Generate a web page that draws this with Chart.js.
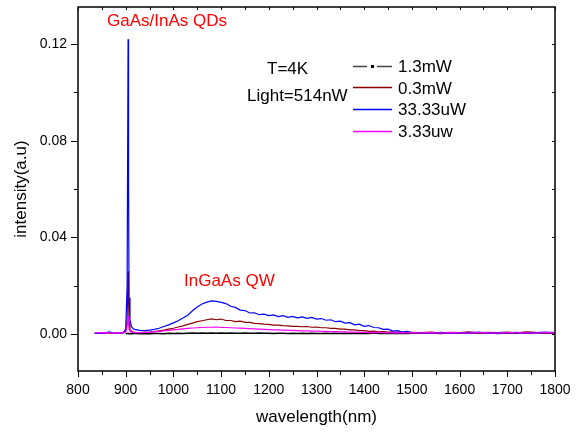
<!DOCTYPE html>
<html>
<head>
<meta charset="utf-8">
<script src="https://cdn.jsdelivr.net/npm/chart.js@4/dist/chart.umd.min.js"></script>
<style>
  html, body { margin: 0; padding: 0; background: #fff; }
  #wrap { width: 586px; height: 432px; }
</style>
</head>
<body>
<div id="wrap"><canvas id="plChart"></canvas></div>
<script>
// longueurs d'onde (nm)
const wavelengths = [
    835, 845, 855, 865, 875, 885, 895, 900, 903, 905, 906, 907, 909, 912, 916,
    920, 930, 940, 950, 960, 970, 980, 990, 1000, 1010,
    1020, 1030, 1040, 1050, 1060, 1070, 1080, 1090, 1100, 1110,
    1120, 1130, 1140, 1150, 1160, 1170, 1180, 1190, 1200, 1210,
    1220, 1230, 1240, 1250, 1260, 1270, 1280, 1290, 1300, 1310,
    1320, 1330, 1340, 1350, 1360, 1370, 1380, 1390, 1400, 1410,
    1420, 1430, 1440, 1450, 1460, 1470, 1480, 1490, 1500,
    1520, 1540, 1560, 1580, 1600, 1620, 1640, 1660, 1680, 1700, 1720, 1740, 1760, 1780, 1800
];

// 1.3mW
const p1_3mW = [
    null, null, null, null, null, null, null, 0.0001, 0.0002, 0.0003, 0.0002, 0.0001, 0.0001, 0.0001, 0.0002,
    0.0002, 0.0001, 0.0002, 0.0001, 0.0002, 0.0002, 0.0001, 0.0003, 0.0002, 0.0003,
    0.0002, 0.0003, 0.0004, 0.0003, 0.0004, 0.0003, 0.0004, 0.0003, 0.0004, 0.0003,
    0.0004, 0.0003, 0.0003, 0.0004, 0.0003, 0.0003, 0.0004, 0.0003, 0.0003, 0.0002,
    0.0003, 0.0003, 0.0002, 0.0003, 0.0002, 0.0003, 0.0002, 0.0003, 0.0002, 0.0002,
    0.0003, 0.0002, 0.0003, 0.0002, 0.0003, 0.0002, 0.0003, 0.0002, 0.0003, 0.0002,
    0.0004, 0.0002, 0.0003, 0.0002, 0.0003, 0.0002, 0.0003, 0.0002, 0.0003,
    0.0003, 0.0004, 0.0002, 0.0005, 0.0003, 0.0004, 0.0003, 0.0005, 0.0002, 0.0004, 0.0003, 0.0005, 0.0004, 0.0003, 0.0004
];

// 0.3mW
const p0_3mW = [
    0.0004, 0.0003, 0.0005, 0.0004, 0.0003, 0.0005, 0.0004, 0.001, 0.006, 0.026, 0.014, 0.005, 0.002, 0.0012, 0.0008,
    0.0007, 0.0006, 0.0007, 0.0008, 0.0010, 0.0013, 0.0016, 0.0020, 0.0024, 0.0029,
    0.0034, 0.0040, 0.0045, 0.0051, 0.0055, 0.0059, 0.0063, 0.0059, 0.0062, 0.0056,
    0.0056, 0.0051, 0.0053, 0.0048, 0.0048, 0.0044, 0.0043, 0.0041, 0.0040, 0.0037,
    0.0037, 0.0035, 0.0034, 0.0032, 0.0032, 0.0030, 0.0031, 0.0028, 0.0029, 0.0026,
    0.0026, 0.0023, 0.0023, 0.0020, 0.0020, 0.0017, 0.0017, 0.0014, 0.0014, 0.0011,
    0.0012, 0.0009, 0.0010, 0.0008, 0.0009, 0.0007, 0.0008, 0.0006, 0.0007,
    0.0006, 0.0008, 0.0005, 0.0007, 0.0006, 0.0009, 0.0005, 0.0007, 0.0006, 0.0008, 0.0005, 0.0009, 0.0007, 0.0006, 0.0007
];

// 33.33uW
const p33uW = [
    0.0003, 0.0004, 0.0003, 0.0009, 0.0004, 0.0005, 0.0006, 0.002, 0.02, 0.122, 0.06, 0.015, 0.006, 0.003, 0.0022,
    0.0018, 0.0015, 0.0014, 0.0016, 0.0019, 0.0024, 0.0031, 0.0038, 0.0046, 0.0055,
    0.0066, 0.0078, 0.0096, 0.0112, 0.0124, 0.0132, 0.0137, 0.0135, 0.0131, 0.0126,
    0.0115, 0.0110, 0.0099, 0.0097, 0.0087, 0.0088, 0.0080, 0.0082, 0.0076, 0.0079,
    0.0072, 0.0076, 0.0069, 0.0073, 0.0067, 0.0071, 0.0065, 0.0069, 0.0062, 0.0064,
    0.0057, 0.0059, 0.0051, 0.0053, 0.0045, 0.0047, 0.0038, 0.0041, 0.0032, 0.0035,
    0.0027, 0.0026, 0.0019, 0.0020, 0.0012, 0.0014, 0.0008, 0.0011, 0.0006,
    0.0006, 0.0004, 0.0007, 0.0003, 0.0006, 0.0005, 0.0008, 0.0004, 0.0006, 0.0005, 0.0007, 0.0004, 0.0006, 0.0008, 0.0005
];

// 3.33uw
const p3uW = [
    0.0005, 0.0005, 0.0006, 0.0005, 0.0004, 0.0006, 0.0005, 0.0008, 0.003, 0.0075, 0.005, 0.002, 0.0012, 0.0009, 0.0007,
    0.0006, 0.0006, 0.0007, 0.0008, 0.0009, 0.0011, 0.0013, 0.0015, 0.0017, 0.0019,
    0.0021, 0.0023, 0.0025, 0.0026, 0.0027, 0.0028, 0.0028, 0.0029, 0.0027, 0.0027,
    0.0026, 0.0025, 0.0024, 0.0023, 0.0022, 0.0021, 0.0020, 0.0019, 0.0018, 0.0017,
    0.0017, 0.0016, 0.0015, 0.0015, 0.0014, 0.0013, 0.0013, 0.0012, 0.0012, 0.0011,
    0.0011, 0.0010, 0.0010, 0.0009, 0.0009, 0.0008, 0.0008, 0.0007, 0.0007, 0.0006,
    0.0007, 0.0006, 0.0006, 0.0005, 0.0006, 0.0005, 0.0006, 0.0005, 0.0006,
    0.0005, 0.0006, 0.0004, 0.0006, 0.0005, 0.0004, 0.0006, 0.0005, 0.0004, 0.0006, 0.0005, 0.0005, 0.0004, 0.0006, 0.0005
];

const yTickValues = [0, 0.04, 0.08, 0.12];
const seriesLabels = ['1.3mW', '0.3mW', '33.33uW', '3.33uw'];
const seriesColors = ['#000000', '#8b0000', '#0000ff', '#ff00ff'];

const FONT = 'Arial, "Liberation Sans", sans-serif';

function toPoints(vals) {
    return wavelengths.map((w, i) => ({ x: w, y: vals[i] }));
}

// cadre, graduations, légende et annotations
const decor = {
    id: 'decor',
    afterDraw(chart) {
        const { ctx, chartArea: a, scales: { x, y } } = chart;
        ctx.save();
        ctx.strokeStyle = '#000';
        ctx.lineWidth = 1.5;
        ctx.strokeRect(a.left, a.top, a.right - a.left, a.bottom - a.top);

        ctx.lineWidth = 1;
        ctx.beginPath();
        for (let v = 800; v <= 1800; v += 50) {
            const px = Math.round(x.getPixelForValue(v)) + 0.5;
            const len = v % 100 === 0 ? 6 : 4;
            ctx.moveTo(px, a.bottom); ctx.lineTo(px, a.bottom + len);
            ctx.moveTo(px, a.top); ctx.lineTo(px, a.top + 3);
        }
        for (let k = 0; k <= 6; k++) {
            const py = Math.round(y.getPixelForValue(k * 0.02)) + 0.5;
            const len = k % 2 === 0 ? 7 : 4;
            ctx.moveTo(a.left, py); ctx.lineTo(a.left - len, py);
            ctx.moveTo(a.right, py); ctx.lineTo(a.right - 3, py);
        }
        ctx.stroke();

        // annotations
        ctx.font = '17px ' + FONT;
        ctx.textBaseline = 'alphabetic';
        ctx.textAlign = 'left';
        ctx.fillStyle = '#ff0000';
        ctx.fillText('GaAs/InAs QDs', 107, 26);
        ctx.fillText('InGaAs QW', 184, 286);
        ctx.fillStyle = '#000';
        ctx.fillText('T=4K', 267, 74);
        ctx.fillText('Light=514nW', 247, 101);

        // légende
        const rows = [66.5, 87.5, 109.5, 131.5];
        const base = [72, 93.5, 115, 137];
        rows.forEach((ry, i) => {
            ctx.lineWidth = 1.5;
            ctx.beginPath();
            if (i === 0) {
                ctx.strokeStyle = '#444';
                ctx.moveTo(353, ry); ctx.lineTo(367, ry);
                ctx.moveTo(377, ry); ctx.lineTo(392, ry);
                ctx.stroke();
                ctx.fillStyle = '#000';
                ctx.fillRect(371, ry - 1.5, 3, 3);
            } else {
                ctx.strokeStyle = seriesColors[i];
                ctx.moveTo(353, ry); ctx.lineTo(392, ry);
                ctx.stroke();
            }
            ctx.fillStyle = '#000';
            ctx.fillText(seriesLabels[i], 398, base[i]);
        });
        ctx.restore();
    }
};

new Chart(document.getElementById('plChart'), {
    type: 'scatter',
    data: {
        datasets: [p1_3mW, p0_3mW, p33uW, p3uW].map((vals, i) => ({
            label: seriesLabels[i],
            data: toPoints(vals),
            showLine: true,
            borderColor: seriesColors[i],
            borderWidth: i === 0 ? 1.6 : 1.2,
            pointRadius: 0,
            pointHoverRadius: 0,
            tension: 0,
            spanGaps: false,
            order: [4, 3, 2, 1][i]
        }))
    },
    options: {
        responsive: true,
        maintainAspectRatio: false,
        animation: false,
        events: [],
        layout: { padding: { left: 0, right: 31, top: 7, bottom: 0 } },
        plugins: { legend: { display: false }, tooltip: { enabled: false } },
        scales: {
            x: {
                type: 'linear',
                min: 800,
                max: 1800,
                grid: { display: false, drawTicks: false },
                border: { display: false },
                ticks: { stepSize: 100, padding: 11, color: '#000', font: { size: 14, family: FONT }, maxRotation: 0, callback: v => String(v) },
                title: { display: true, text: 'wavelength(nm)', color: '#000', font: { size: 17, family: FONT }, padding: { top: 0, bottom: 4 } },
                afterFit: s => { s.height = 61; s.paddingLeft = 0; s.paddingRight = 0; }
            },
            y: {
                type: 'linear',
                min: -0.0153,
                max: 0.1353,
                grid: { display: false, drawTicks: false },
                border: { display: false },
                afterBuildTicks: s => { s.ticks = yTickValues.map(value => ({ value })); },
                ticks: { padding: 11, color: '#000', font: { size: 14, family: FONT }, callback: v => v.toFixed(2) },
                title: { display: true, text: 'intensity(a.u)', color: '#000', font: { size: 17, family: FONT }, padding: { top: 11, bottom: 0 } },
                afterFit: s => { s.width = 78; s.paddingTop = 0; s.paddingBottom = 0; }
            }
        }
    },
    plugins: [decor]
});
</script>
</body>
</html>
